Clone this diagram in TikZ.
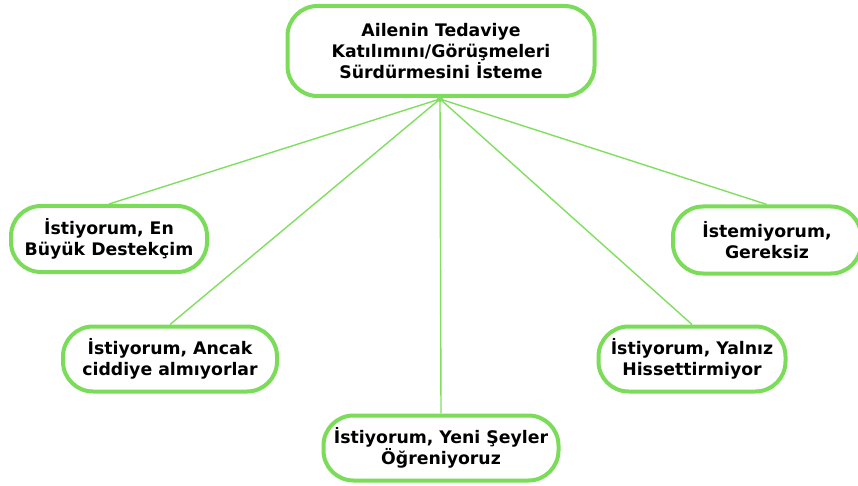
\documentclass[tikz,border=0pt]{standalone}
\usepackage{fontspec}
\setmainfont{DejaVu Sans}
\usepackage{tikz}
\usetikzlibrary{calc}
\definecolor{box_green}{RGB}{122, 220, 88}
\definecolor{line_green}{RGB}{128, 222, 96}
\tikzstyle{gbox}=[rectangle,rounded corners=30pt,fill=white,draw=box_green,
  line width=4pt,inner sep=3pt,align=center,
  font=\fontsize{17.3}{21}\selectfont\bfseries]
\tikzstyle{glink}=[draw=line_green,line width=1.4pt]

\begin{document}
\begin{tikzpicture}[x=1pt,y=-1pt]
        \useasboundingbox (0,0) rectangle (858,486);
        \node [style=gbox,minimum width=307pt,minimum height=90pt] (top) at (441,51) {Ailenin Tedaviye\\Katılımını/Görüşmeleri\\Sürdürmesini İsteme};
        \coordinate (hub) at (440,99);
        \node [style=gbox,minimum width=196pt,minimum height=66pt] (en) at (109,239) {İstiyorum, En\\Büyük Destekçim};
        \node [style=gbox,minimum width=214pt,minimum height=65pt] (ancak) at (170,359) {İstiyorum, Ancak\\ciddiye almıyorlar};
        \node [style=gbox,minimum width=235pt,minimum height=65pt] (yeni) at (441,448) {İstiyorum, Yeni Şeyler\\Öğreniyoruz};
        \node [style=gbox,minimum width=187pt,minimum height=65pt] (yalniz) at (692,359) {İstiyorum, Yalnız\\Hissettirmiyor};
        \node [style=gbox,minimum width=188pt,minimum height=67pt] (gerek) at (767,240) {İstemiyorum,\\Gereksiz};
        \draw [style=glink] (hub) to (en.north);
        \draw [style=glink] (hub) to (ancak.north);
        \draw [style=glink] (hub) to (yeni.north);
        \draw [style=glink] (hub) to (yalniz.north);
        \draw [style=glink] (hub) to (gerek.north);
        \fill [line_green] (hub) circle (3pt);
    \end{tikzpicture}
\end{document}
